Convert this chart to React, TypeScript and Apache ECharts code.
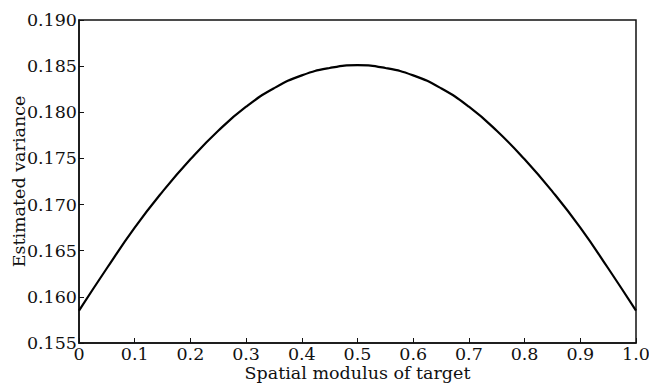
import React, { useEffect, useRef } from "react";
import * as echarts from "echarts";

const xValues = [0, 0.05, 0.1, 0.15, 0.2, 0.25, 0.3, 0.35, 0.4, 0.45, 0.5, 0.55, 0.6, 0.65, 0.7, 0.75, 0.8, 0.85, 0.9, 0.95, 1.0];
const varianceValues = [0.1585, 0.1631, 0.1675, 0.1714, 0.1749, 0.178, 0.1806, 0.1826, 0.184, 0.1848, 0.1851, 0.1848, 0.184, 0.1826, 0.1806, 0.178, 0.1749, 0.1714, 0.1675, 0.1631, 0.1585];
const xAxisTitle = "Spatial modulus of target";
const yAxisTitle = "Estimated variance";

const FONT = "DejaVu Serif";
const FS = 17.5;

export default function App() {
  const ref = useRef<HTMLDivElement>(null);
  useEffect(() => {
    if (!ref.current) return;
    const chart = echarts.init(ref.current, null, { renderer: "svg" });
    const data = xValues.map((x, i) => [x, varianceValues[i]]);
    chart.setOption({
      animation: false,
      grid: {
        left: 79,
        right: 13,
        top: 20,
        bottom: 41,
        containLabel: false,
        outerBoundsMode: "none",
        show: true,
        borderColor: "#111",
        borderWidth: 1.5,
        backgroundColor: "transparent",
      },
      xAxis: {
        type: "value",
        min: 0,
        max: 1,
        interval: 0.1,
        name: xAxisTitle,
        nameLocation: "middle",
        nameGap: 21,
        nameMoveOverlap: false,
        nameTextStyle: { fontFamily: FONT, fontSize: FS, color: "#111" },
        axisLine: { show: true, lineStyle: { color: "#111", width: 1.5 } },
        axisTick: { show: true, inside: true, length: 5, lineStyle: { color: "#111", width: 1 } },
        axisLabel: {
          fontFamily: FONT,
          fontSize: FS,
          color: "#111",
          margin: 2,
          formatter: (v: number) => (v === 0 ? "0" : v.toFixed(1)),
        },
        splitLine: { show: false },
      },
      yAxis: {
        type: "value",
        min: 0.155,
        max: 0.19,
        interval: 0.005,
        name: yAxisTitle,
        nameLocation: "middle",
        nameGap: 51,
        nameMoveOverlap: false,
        nameTextStyle: { fontFamily: FONT, fontSize: FS, color: "#111" },
        axisLine: { show: true, lineStyle: { color: "#111", width: 1.5 } },
        axisTick: { show: true, inside: true, length: 5, lineStyle: { color: "#111", width: 1 } },
        axisLabel: {
          fontFamily: FONT,
          fontSize: FS,
          color: "#111",
          margin: 2,
          formatter: (v: number) => v.toFixed(3),
        },
        splitLine: { show: false },
      },
      series: [
        {
          type: "line",
          data,
          smooth: 0.5,
          showSymbol: false,
          lineStyle: { color: "#000", width: 2.2 },
        },
      ],
    });
    return () => chart.dispose();
  }, []);
  return <div ref={ref} style={{ width: 649, height: 384, position: "absolute", left: 0, top: 0 }} />;
}
